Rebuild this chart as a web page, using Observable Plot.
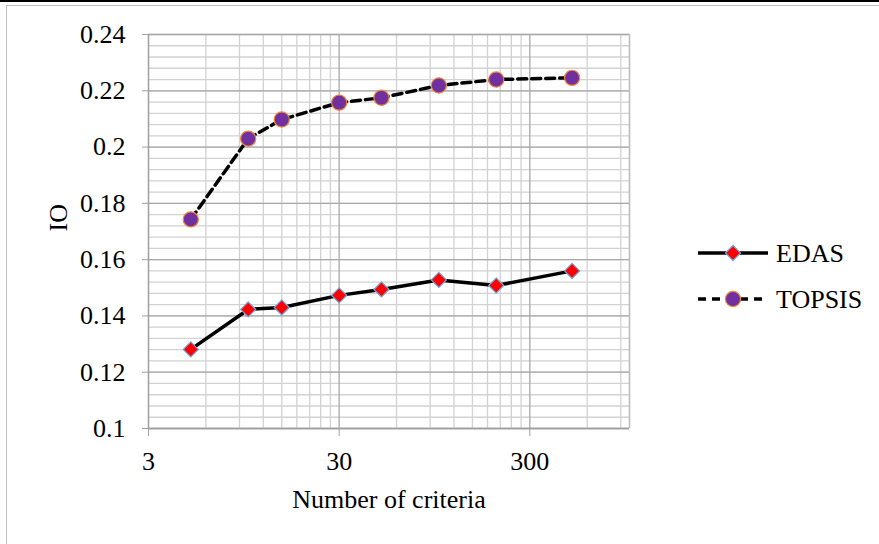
<!DOCTYPE html>
<html><head><meta charset="utf-8">
<script src="https://cdn.jsdelivr.net/npm/d3@7"></script>
<script src="https://cdn.jsdelivr.net/npm/@observablehq/plot@0.6"></script>
<style>
body{margin:0;background:#fff;}
#wrap{position:relative;width:879px;height:544px;overflow:hidden;font-family:"Liberation Serif","Times New Roman",serif;background:#fff;}
#topline{position:absolute;left:0;top:0;width:879px;height:1.5px;background:#000;}
#frame{position:absolute;left:6px;top:5px;width:900px;height:600px;border:1.5px solid #bdbdbd;box-sizing:border-box;}
#chart{position:absolute;left:0;top:0;}
#legend{position:absolute;left:0;top:0;}
#wrap svg, #wrap svg text, #wrap svg g{font-family:"Liberation Serif","Times New Roman",serif !important;font-variant:normal !important;}
</style></head><body>
<div id="wrap"><div id="topline"></div><div id="frame"></div><div id="chart"></div><svg id="legend" width="879" height="544"></svg></div>
<script>
// Data
const criteria = [5, 10, 15, 30, 50, 100, 200, 500];
const edasIO   = [0.1281, 0.1423, 0.1430, 0.1473, 0.1494, 0.1528, 0.1508, 0.1560];
const topsisIO = [0.1743, 0.2030, 0.2098, 0.2158, 0.2175, 0.2219, 0.2240, 0.2246];
const seriesNames = ["EDAS", "TOPSIS"];
const xTicks = [3, 30, 300];
const xTickLabels = ["3", "30", "300"];
const yTicks = [0.1, 0.12, 0.14, 0.16, 0.18, 0.2, 0.22, 0.24];
const xTitle = "Number of criteria";
const yTitle = "IO";

const edas = criteria.map((x, i) => ({x, y: edasIO[i]}));
const topsis = criteria.map((x, i) => ({x, y: topsisIO[i]}));
const xLabelData = xTicks.map((x, i) => ({x, label: xTickLabels[i]}));

// minor gridlines (multiples of 3 within each decade, step 0.004 on y)
const xMinor = [];
for (const base of [3, 30, 300]) for (let k = 2; k <= 9; k++) { const v = base * k; if (v < 1000) xMinor.push(v); }
const yMinor = d3.range(0, 36).map(i => +(0.1 + i * 0.004).toFixed(3)).filter(v => v <= 0.24);

const FONT = "'Liberation Serif', 'Times New Roman', serif";
const chart = Plot.plot({
  width: 879, height: 544,
  marginLeft: 148, marginRight: 250, marginTop: 34, marginBottom: 116,
  style: {fontFamily: FONT, fontSize: "26px", color: "#000", background: "transparent", overflow: "visible"},
  x: {type: "log", domain: [3, 1000]},
  y: {domain: [0.1, 0.24]},
  marks: [
    Plot.ruleX(xMinor, {stroke: "#d2d2d2", strokeWidth: 1.3}),
    Plot.ruleY(yMinor, {stroke: "#d2d2d2", strokeWidth: 1.3}),
    Plot.ruleX(xTicks, {stroke: "#a8a8a8", strokeWidth: 1.3}),
    Plot.ruleY(yTicks, {stroke: "#a8a8a8", strokeWidth: 1.3}),
    Plot.ruleX([1000], {stroke: "#bdbdbd", strokeWidth: 1.6}),
    Plot.ruleY([0.1], {stroke: "#a0a0a0", strokeWidth: 1.6}),
    Plot.ruleX([3], {stroke: "#a0a0a0", strokeWidth: 1.3}),
    Plot.axisX(xTicks, {tickSize: 8, tickFormat: () => "", label: null, stroke: "#a0a0a0"}),
    Plot.text(xLabelData, {x: "x", text: "label", frameAnchor: "bottom", dy: 33, lineAnchor: "middle", fontSize: 26, fontFamily: FONT, fill: "#000"}),
    Plot.axisY(yTicks, {tickSize: 6, tickPadding: 17, tickFormat: d => String(+d.toFixed(2)), label: null, stroke: "#a0a0a0", fontSize: 26, fontFamily: FONT, fill: "#000"}),
    Plot.line(edas, {x: "x", y: "y", stroke: "#000", strokeWidth: 3.5}),
    Plot.line(topsis, {x: "x", y: "y", stroke: "#000", strokeWidth: 3.5, strokeDasharray: "9,5"}),
    Plot.dot(edas, {x: "x", y: "y", symbol: "diamond2", r: 6.8, fill: "#ff0000", stroke: "#6fa8dc", strokeWidth: 1.2}),
    Plot.dot(topsis, {x: "x", y: "y", r: 7.6, fill: "#7030a0", stroke: "#f08a3a", strokeWidth: 1.2}),
    Plot.text([xTitle], {frameAnchor: "bottom", dy: 71, lineAnchor: "middle", fontSize: 26, fontFamily: FONT, fill: "#000"}),
    Plot.text([yTitle], {frameAnchor: "left", dx: -89.5, rotate: -90, lineAnchor: "middle", fontSize: 26, fontFamily: FONT, fill: "#000"})
  ]
});
document.getElementById("chart").appendChild(chart);

// Legend
const leg = d3.select("#legend");
const rows = [
  {name: seriesNames[0], y: 253, dash: null, sym: "diamond"},
  {name: seriesNames[1], y: 299, dash: "8,6", sym: "circle"}
];
for (const r of rows) {
  leg.append("line").attr("x1", 698).attr("x2", 768).attr("y1", r.y).attr("y2", r.y)
    .attr("stroke", "#000").attr("stroke-width", 3.5).attr("stroke-dasharray", r.dash);
  if (r.sym === "diamond") {
    leg.append("path").attr("d", d3.symbol(d3.symbolDiamond2, 6.8 * 6.8 * Math.PI)())
      .attr("transform", `translate(733,${r.y})`).attr("fill", "#ff0000").attr("stroke", "#6fa8dc").attr("stroke-width", 1.2);
  } else {
    leg.append("circle").attr("cx", 733).attr("cy", r.y).attr("r", 7.6)
      .attr("fill", "#7030a0").attr("stroke", "#f08a3a").attr("stroke-width", 1.2);
  }
  leg.append("text").attr("x", 776).attr("y", r.y + 8.5).attr("font-family", FONT).attr("font-size", 26).attr("fill", "#000").text(r.name);
}
</script>
</body></html>
